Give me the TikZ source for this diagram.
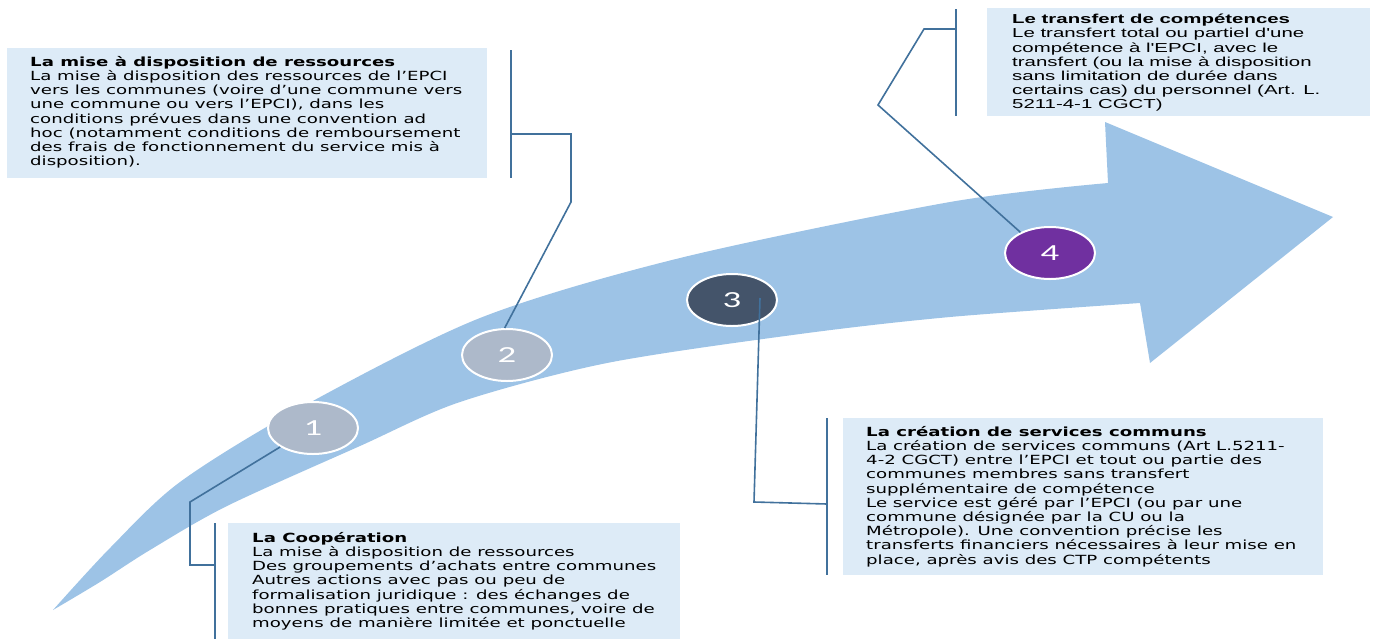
\documentclass[tikz,border=0pt]{standalone}
\usepackage{fontspec}
\usetikzlibrary{shapes.geometric}

\newfontfamily\panelfont[FakeStretch=1.44]{DejaVu Sans}
\newfontfamily\panelfontarial[FakeStretch=1.57]{Liberation Sans}
\newfontfamily\stagefont[FakeStretch=1.6]{Carlito}

\definecolor{bandblue}{HTML}{9DC3E6}
\definecolor{panelblue}{HTML}{DDEBF7}
\definecolor{leaderblue}{HTML}{41719C}
\definecolor{stagegrey}{HTML}{ADB9CA}
\definecolor{stageslate}{HTML}{44546A}
\definecolor{stagepurple}{HTML}{7030A0}

\tikzset{
  panel/.style={fill=panelblue, inner sep=0, anchor=north west},
  paneltext/.style={align=left, inner sep=0, anchor=north west,
    font=\panelfont\fontsize{12.6}{14.2}\selectfont},
  stage/.style={ellipse, draw=white, line width=2, minimum width=90,
    minimum height=52, inner sep=0, text=white,
    font=\stagefont\fontsize{23}{24}\selectfont},
  leader/.style={draw=leaderblue, line width=1.6},
}

\begin{document}
\begin{tikzpicture}[x=1pt, y=-1pt]
    \useasboundingbox (0,0) rectangle (1376,638);

    % the curved arrow
    \fill[bandblue] plot[smooth] coordinates {(53,610) (110,548) (180,482) (300,408) (480,318) (680,258) (950,202) (1108,183)}
        -- (1105,122) -- (1333,217) -- (1150,363) -- (1140,303)
        -- plot[smooth] coordinates {(1140,303) (950,317) (800,334) (607,363) (460,402) (360,446) (227,506) (150,550) (100,582) (53,610)}
        -- cycle;

    % panels
    \node[panel, minimum width=452, minimum height=118] (pnlcoop) at (228,523) {};
    \node[panel, minimum width=480, minimum height=130] (pnlres) at (7,48) {};
    \node[panel, minimum width=480, minimum height=157] (pnlsvc) at (843,418) {};
    \node[panel, minimum width=383, minimum height=108] (pnltrf) at (987,8) {};

    \node[paneltext] (txtcoop) at (252,532) {\textbf{La Coopération}\\
        La mise à disposition de ressources\\
        Des groupements d’achats entre communes\\
        Autres actions avec pas ou peu de\\
        formalisation juridique : des échanges de\\
        bonnes pratiques entre communes, voire de\\
        moyens de manière limitée et ponctuelle};

    \node[paneltext] (txtres) at (30,56) {\textbf{La mise à disposition de ressources}\\
        La mise à disposition des ressources de l’EPCI\\
        vers les communes (voire d’une commune vers\\
        une commune ou vers l’EPCI), dans les\\
        conditions prévues dans une convention ad\\
        hoc (notamment conditions de remboursement\\
        des frais de fonctionnement du service mis à\\
        disposition).};

    \node[paneltext] (txtsvc) at (866,426) {\textbf{La création de services communs}\\
        La création de services communs (Art L.5211-\\
        4-2 CGCT) entre l’EPCI et tout ou partie des\\
        communes membres sans transfert\\
        supplémentaire de compétence\\
        Le service est géré par l’EPCI (ou par une\\
        commune désignée par la CU ou la\\
        Métropole). Une convention précise les\\
        transferts financiers nécessaires à leur mise en\\
        place, après avis des CTP compétents};

    \node[paneltext, font=\panelfontarial\fontsize{13}{14.2}\selectfont] (txttrf) at (1012,14) {\textbf{Le transfert de compétences}\\
        Le transfert total ou partiel d'une\\
        compétence à l'EPCI, avec le\\
        transfert (ou la mise à disposition\\
        sans limitation de durée dans\\
        certains cas) du personnel (Art. L.\\
        5211-4-1 CGCT)};

    % stages
    \node[stage, fill=stagegrey] (st1) at (313,428) {1};
    \node[stage, fill=stagegrey] (st2) at (507,355) {2};
    \node[stage, fill=stageslate] (st3) at (732,300) {3};
    \node[stage, fill=stagepurple] (st4) at (1050,253) {4};

    % brackets
    \coordinate (bar1) at (215,565);
    \coordinate (bar2) at (511,134);
    \coordinate (bar3) at (827,504);
    \coordinate (bar4) at (956,29);
    \draw[leader] (215,523) -- (215,640);
    \draw[leader] (511,50) -- (511,178);
    \draw[leader] (827,418) -- (827,575);
    \draw[leader] (956,9) -- (956,116);

    % leaders
    \draw[leader] (st1.210) -- (190,502) |- (bar1);
    \draw[leader] (st2.95) -- (571,202) |- (bar2);
    \draw[leader] ([xshift=28,yshift=2]st3.center) -- (754,502) -- (bar3);
    \draw[leader] (st4.145) -- (878,105) -- (924,29) -- (bar4);
\end{tikzpicture}
\end{document}
